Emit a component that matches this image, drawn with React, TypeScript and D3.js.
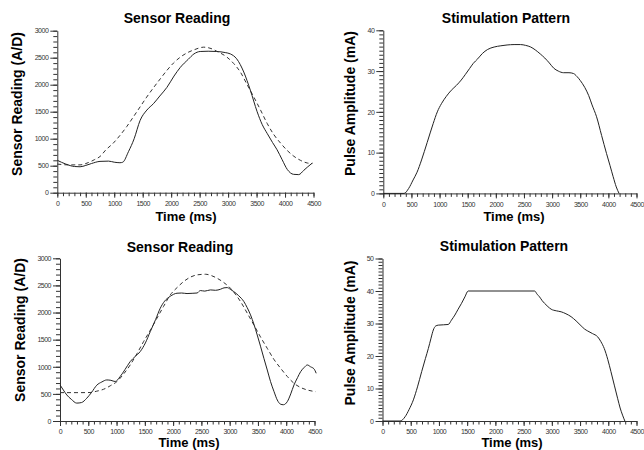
import { useEffect, useRef } from "react";
import * as d3 from "d3";

// 데이터 (시간 ms, 값)
const timeLabels = [0, 500, 1000, 1500, 2000, 2500, 3000, 3500, 4000, 4500];

const sensorMeasured1: [number, number][] = [
  [0, 600], [150, 530], [300, 485], [400, 480], [500, 505], [600, 540], [750, 580], [900, 585],
  [1000, 565], [1100, 555], [1150, 565], [1250, 760], [1350, 1000], [1455, 1340], [1573, 1530],
  [1690, 1650], [1800, 1790], [1925, 1950], [2050, 2160], [2160, 2320], [2300, 2470], [2400, 2570],
  [2510, 2615], [2650, 2620], [2800, 2615], [2950, 2595], [3040, 2570], [3150, 2480], [3275, 2235],
  [3390, 1900], [3510, 1500], [3600, 1260], [3685, 1100], [3780, 930], [3860, 795], [3950, 610],
  [4040, 430], [4150, 340], [4240, 335], [4330, 415], [4400, 480], [4480, 550],
];

const sensorModel1: [number, number][] = [
  [0, 530], [200, 515], [400, 515], [550, 560], [650, 610], [750, 670], [850, 790], [985, 920],
  [1100, 1060], [1220, 1225], [1340, 1410], [1455, 1590], [1570, 1770], [1690, 1945], [1810, 2110],
  [1925, 2265], [2040, 2400], [2160, 2510], [2280, 2590], [2400, 2645], [2570, 2695], [2700, 2670],
  [2800, 2620], [2980, 2510], [3100, 2390], [3215, 2235], [3330, 2010], [3450, 1775], [3570, 1530],
  [3685, 1285], [3800, 1080], [3920, 920], [4040, 780], [4155, 675], [4270, 600], [4390, 550],
  [4480, 540],
];

const stimulation1: [number, number][] = [
  [0, 0], [370, 0], [450, 1.2], [530, 3.3], [600, 5.2], [680, 8.2], [780, 12.5], [886, 17.1],
  [960, 20], [1033, 22], [1120, 23.8], [1209, 25.3], [1300, 26.5], [1385, 27.8], [1460, 29.2],
  [1532, 30.6], [1600, 31.9], [1678, 33], [1760, 34.3], [1854, 35.3], [1970, 35.9], [2089, 36.2],
  [2200, 36.4], [2324, 36.5], [2440, 36.5], [2530, 36.3], [2620, 35.9], [2700, 35.2], [2790, 34.2],
  [2870, 33.2], [2950, 32], [3030, 30.7], [3110, 30], [3204, 29.6], [3300, 29.6], [3380, 29.4],
  [3440, 28.7], [3500, 27.7], [3580, 26], [3650, 24], [3710, 21.7], [3790, 18.8], [3880, 14.2],
  [3967, 9.8], [4030, 6.8], [4085, 4.1], [4140, 1.6], [4190, 0],
];

const sensorMeasured2: [number, number][] = [
  [0, 665], [60, 570], [120, 480], [200, 400], [296, 330], [380, 340], [473, 420], [560, 530],
  [650, 660], [740, 720], [827, 757], [900, 750], [975, 728], [1064, 820], [1150, 950], [1241, 1095],
  [1330, 1190], [1418, 1280], [1510, 1440], [1596, 1648], [1690, 1870], [1773, 2080], [1850, 2210],
  [1950, 2300], [2069, 2356], [2150, 2360], [2246, 2350], [2350, 2355], [2423, 2360], [2482, 2405],
  [2560, 2395], [2660, 2417], [2750, 2410], [2837, 2429], [2900, 2455], [2955, 2460], [3010, 2430],
  [3073, 2386], [3160, 2310], [3251, 2202], [3310, 2090], [3369, 1956], [3430, 1780], [3487, 1587],
  [3545, 1380], [3605, 1156], [3665, 940], [3723, 726], [3785, 540], [3842, 387], [3900, 310],
  [3950, 300], [4019, 357], [4080, 500], [4137, 664], [4200, 800], [4255, 910], [4320, 990],
  [4373, 1033], [4430, 1000], [4492, 960], [4530, 880],
];

const sensorModel2: [number, number][] = [
  [0, 523], [300, 523], [532, 525], [650, 550], [768, 584], [890, 650], [1005, 726], [1120, 860],
  [1241, 1033], [1360, 1240], [1478, 1464], [1600, 1680], [1714, 1894], [1830, 2110], [1950, 2325],
  [2070, 2460], [2186, 2571], [2300, 2650], [2423, 2694], [2571, 2706], [2680, 2680], [2778, 2632],
  [2900, 2550], [3014, 2448], [3100, 2340], [3192, 2202], [3310, 1990], [3428, 1771], [3545, 1550],
  [3664, 1341], [3780, 1140], [3901, 972], [4020, 820], [4137, 695], [4250, 620], [4373, 572],
  [4521, 541],
];

const stimulation2: [number, number][] = [
  [0, 0], [312, 0], [400, 1.3], [470, 3.5], [547, 6.5], [620, 10.5], [694, 15.2], [760, 19.2],
  [812, 22.3], [860, 25.5], [900, 28], [940, 29.2], [988, 29.5], [1080, 29.6], [1165, 29.7],
  [1220, 31], [1282, 32.6], [1340, 34.4], [1400, 36.2], [1460, 38.2], [1518, 40], [2694, 40],
  [2740, 39], [2782, 38.2], [2830, 37], [2871, 36.2], [2930, 35.2], [2988, 34.4], [3080, 33.9],
  [3165, 33.6], [3250, 33], [3341, 32.1], [3430, 30.8], [3518, 29.3], [3580, 28.3], [3635, 27.7],
  [3720, 26.9], [3812, 25.9], [3870, 24.4], [3929, 22.3], [3990, 19], [4047, 15.2], [4110, 10.8],
  [4165, 7], [4210, 4], [4253, 1.8], [4294, 0],
];

type PanelCfg = {
  title: string;
  yLabel: string;
  yMax: number;
  yMajor: number;
  yMinor: number;
  solid: [number, number][];
  dashed?: [number, number][];
  x0: number; x1: number; y0: number; y1: number;
  titleX: number; titleY: number;
  yLabelX: number; yLabelY: number;
  xLabelX: number; xLabelY: number;
};

const panels: PanelCfg[] = [
  {
    title: "Sensor Reading", yLabel: "Sensor Reading (A/D)", yMax: 3000, yMajor: 500, yMinor: 100,
    solid: sensorMeasured1, dashed: sensorModel1,
    x0: 57.3, x1: 313.5, y0: 192.7, y1: 30.7,
    titleX: 177, titleY: 23, yLabelX: 22, yLabelY: 104, xLabelX: 186, xLabelY: 221,
  },
  {
    title: "Stimulation Pattern", yLabel: "Pulse Amplitude (mA)", yMax: 40, yMajor: 10, yMinor: 1,
    solid: stimulation1,
    x0: 383.3, x1: 636.5, y0: 193.4, y1: 30.3,
    titleX: 506, titleY: 23, yLabelX: 355, yLabelY: 103.5, xLabelX: 514, xLabelY: 221,
  },
  {
    title: "Sensor Reading", yLabel: "Sensor Reading (A/D)", yMax: 3000, yMajor: 500, yMinor: 100,
    solid: sensorMeasured2, dashed: sensorModel2,
    x0: 60, x1: 314.5, y0: 421, y1: 258.3,
    titleX: 180, titleY: 252, yLabelX: 25, yLabelY: 330, xLabelX: 189, xLabelY: 447,
  },
  {
    title: "Stimulation Pattern", yLabel: "Pulse Amplitude (mA)", yMax: 50, yMajor: 10, yMinor: 1,
    solid: stimulation2,
    x0: 382.5, x1: 636.5, y0: 421, y1: 258.5,
    titleX: 504, titleY: 251, yLabelX: 355, yLabelY: 333, xLabelX: 512, xLabelY: 447,
  },
];

const FONT = "'Liberation Sans', Arial, sans-serif";

const Panel = ({ cfg }: { cfg: PanelCfg }) => {
  const gRef = useRef<SVGGElement>(null);

  useEffect(() => {
    if (!gRef.current) return;
    const g = d3.select(gRef.current);
    g.selectAll("*").remove();

    const x = d3.scaleLinear().domain([0, 4500]).range([cfg.x0, cfg.x1]);
    const y = d3.scaleLinear().domain([0, cfg.yMax]).range([cfg.y0, cfg.y1]);

    // x축 보조 눈금
    g.append("g")
      .attr("transform", `translate(0,${cfg.y0})`)
      .call(d3.axisBottom(x).tickValues(d3.range(0, 4501, 100)).tickSize(3.5).tickSizeOuter(0).tickFormat(() => ""));
    // x축 주 눈금 + 라벨
    const xMajor = g.append("g")
      .attr("transform", `translate(0,${cfg.y0})`)
      .call(d3.axisBottom(x).tickValues(timeLabels).tickSize(5).tickPadding(3.5).tickFormat((d) => `${d}`));
    xMajor.select(".domain").remove();

    // y축 보조 눈금
    g.append("g")
      .attr("transform", `translate(${cfg.x0},0)`)
      .call(d3.axisLeft(y).tickValues(d3.range(0, cfg.yMax + 0.001, cfg.yMinor)).tickSize(4).tickSizeOuter(0).tickFormat(() => ""));
    // y축 주 눈금 + 라벨
    const yMajor = g.append("g")
      .attr("transform", `translate(${cfg.x0},0)`)
      .call(d3.axisLeft(y).tickValues(d3.range(0, cfg.yMax + 0.001, cfg.yMajor)).tickSize(7).tickPadding(2).tickFormat((d) => `${d}`));
    yMajor.select(".domain").remove();

    g.selectAll(".domain, .tick line").attr("stroke", "#333");
    g.selectAll(".tick text")
      .attr("font-size", 7)
      .attr("letter-spacing", -0.5)
      .attr("font-family", FONT)
      .attr("fill", "#333");

    const line = d3.line<[number, number]>()
      .x((d) => x(d[0]))
      .y((d) => y(d[1]))
      .curve(d3.curveMonotoneX);

    if (cfg.dashed) {
      g.append("path")
        .attr("d", line(cfg.dashed))
        .attr("fill", "none")
        .attr("stroke", "#333")
        .attr("stroke-width", 1)
        .attr("stroke-dasharray", "4,3");
    }

    g.append("path")
      .attr("d", line(cfg.solid))
      .attr("fill", "none")
      .attr("stroke", "#222")
      .attr("stroke-width", 1);

    // 제목과 축 라벨
    g.append("text")
      .attr("x", cfg.titleX)
      .attr("y", cfg.titleY)
      .attr("text-anchor", "middle")
      .attr("font-family", FONT)
      .attr("font-weight", "bold")
      .attr("font-size", 14)
      .text(cfg.title);

    g.append("text")
      .attr("transform", `translate(${cfg.yLabelX},${cfg.yLabelY}) rotate(-90)`)
      .attr("text-anchor", "middle")
      .attr("font-family", FONT)
      .attr("font-weight", "bold")
      .attr("font-size", 14)
      .text(cfg.yLabel);

    g.append("text")
      .attr("x", cfg.xLabelX)
      .attr("y", cfg.xLabelY)
      .attr("text-anchor", "middle")
      .attr("font-family", FONT)
      .attr("font-weight", "bold")
      .attr("font-size", 13)
      .text("Time (ms)");
  }, [cfg]);

  return <g ref={gRef}></g>;
};

const App = () => {
  return (
    <div style={{ position: "absolute", left: 0, top: 0 }}>
      <svg width={644} height={450} style={{ display: "block", background: "#fff" }}>
        {panels.map((p, i) => (
          <Panel key={i} cfg={p} />
        ))}
      </svg>
    </div>
  );
};

export default App;
